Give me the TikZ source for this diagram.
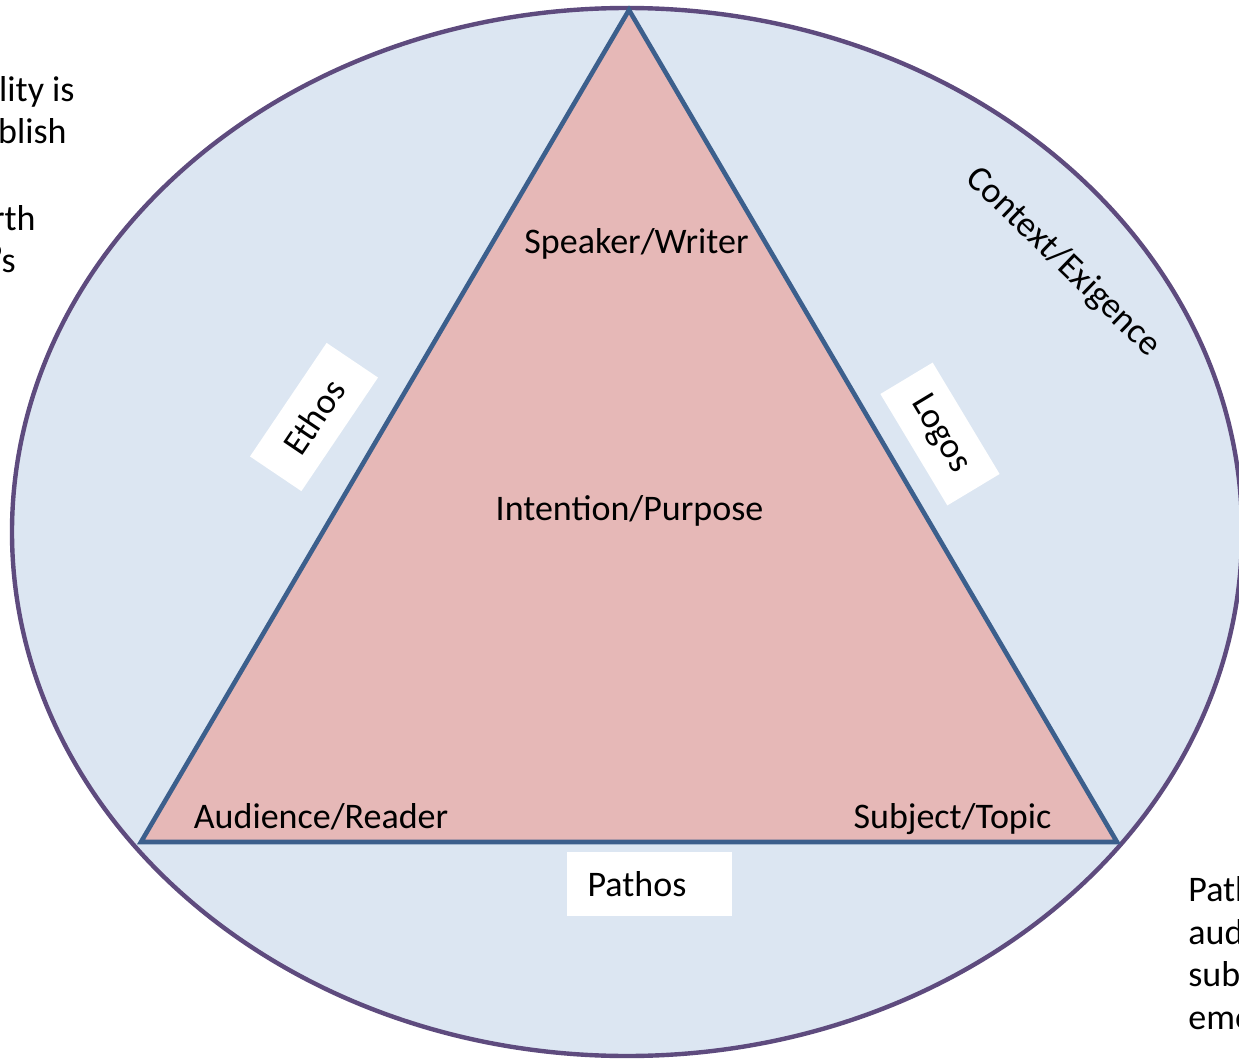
\documentclass[tikz,border=0pt]{standalone}
\usepackage{fontspec}
\setmainfont{Carlito}
\definecolor{ellfill}{HTML}{DCE6F2}
\definecolor{ellline}{HTML}{5E4B7E}
\definecolor{trifill}{HTML}{E6B8B7}
\definecolor{triline}{HTML}{3C5F8C}
\begin{document}
\begin{tikzpicture}[x=0.5pt,y=-0.5pt,
  lbl/.style={font=\fontsize{18}{21.6}\selectfont, inner sep=0pt, anchor=base},
  frag/.style={font=\fontsize{18}{21.6}\selectfont, inner sep=0pt, anchor=base west},
  fragr/.style={font=\fontsize{18}{21.6}\selectfont, inner sep=0pt, anchor=base east},
  whitebox/.style={fill=white, draw=none, inner sep=0pt}]
\useasboundingbox (0,0) rectangle (1239,1060);
\fill[white] (0,0) rectangle (1239,1060);
% ellipse
\draw[fill=ellfill, draw=ellline, line width=2.2pt] (627,532) ellipse [x radius=307.5pt, y radius=262pt];
% triangle
\coordinate (apex) at (629,10);
\coordinate (bl) at (141,842);
\coordinate (br) at (1117,842);
\draw[fill=trifill, draw=triline, line width=2.3pt] (apex) -- (bl) -- (br) -- cycle;
% labels inside triangle
\node[lbl] (speaker) at (636.5,253.5) {Speaker/Writer};
\node[lbl] (intent) at (629.5,520) {Intention/Purpose};
\node[lbl] (aud) at (321,828) {Audience/Reader};
\node[lbl] (subj) at (952.5,828) {Subject/Topic};
% appeal boxes
\node[whitebox, minimum width=82.5pt, minimum height=32pt] (pathosbox) at (649.5,884) {};
\node[lbl] (pathos) at (637,896) {Pathos};
\node[whitebox, minimum width=68.5pt, minimum height=31pt, rotate=56, font=\fontsize{18}{21.6}\selectfont] (ethos) at (314,417) {Ethos};
\node[whitebox, minimum width=65pt, minimum height=30.5pt, rotate=-59, font=\fontsize{18}{21.6}\selectfont] (logos) at (940,434) {Logos};
% context
\node[font=\fontsize{18}{21.6}\selectfont, inner sep=0pt, rotate=-44] (context) at (1063,262) {Context/Exigence};
% clipped text fragments at left
\node[fragr] (l1) at (75,101.5) {lity is};
\node[fragr] (l2) at (67,143.5) {blish};
\node[fragr] (l3) at (36,230) {rth};
\node[fragr] (l4) at (16,272) {’s};
% clipped text fragments at right
\node[frag] (r1) at (1188,901.5) {Path};
\node[frag] (r2) at (1188,944) {aud};
\node[frag] (r3) at (1188,986.5) {sub};
\node[frag] (r4) at (1188,1029) {emo};
\end{tikzpicture}
\end{document}
